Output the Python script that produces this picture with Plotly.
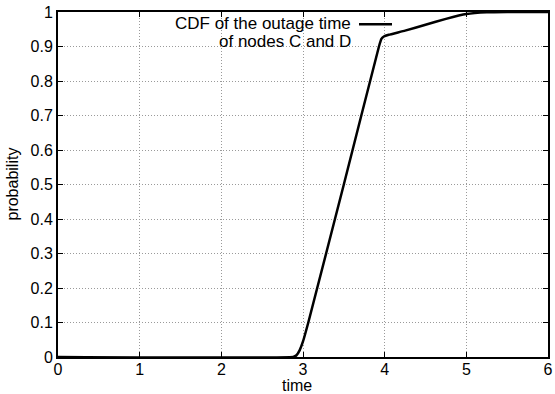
import plotly.graph_objects as go

time = [0, 2.88, 2.92, 2.96, 3.0, 3.065, 3.5, 3.93, 3.96, 3.99, 4.05, 4.25, 4.5, 4.75, 5.0, 5.25, 5.5, 6.0]
prob = [0, 0, 0.005, 0.02, 0.045, 0.1, 0.5, 0.9, 0.922, 0.929, 0.934, 0.946, 0.963, 0.98, 0.994, 0.999, 1.0, 1.0]
x_ticks = [0, 1, 2, 3, 4, 5, 6]
y_ticks = [0, 0.1, 0.2, 0.3, 0.4, 0.5, 0.6, 0.7, 0.8, 0.9, 1]
y_tick_text = ["0", "0.1", "0.2", "0.3", "0.4", "0.5", "0.6", "0.7", "0.8", "0.9", "1"]
legend_lines = ["CDF of the outage time", "of nodes C and D"]
x_title = "time"
y_title = "probability"

font = "Liberation Sans, Arial, sans-serif"

fig = go.Figure()
fig.add_trace(go.Scatter(x=time, y=prob, mode="lines",
                         line=dict(color="black", width=2.5, shape="spline", smoothing=0.3),
                         showlegend=False))

axis_common = dict(showline=True, linecolor="black", linewidth=2, mirror="ticks",
                   ticks="inside", ticklen=5, tickcolor="black", tickwidth=1,
                   showgrid=True, gridcolor="#9a9a9a", griddash="1px,2px", gridwidth=1,
                   zeroline=False, automargin=False,
                   tickfont=dict(family=font, size=16, color="black"))

fig.update_xaxes(range=[0, 6], tickvals=x_ticks, ticktext=[str(v) for v in x_ticks],
                 ticklabelstandoff=-3, **axis_common)
fig.update_yaxes(range=[0, 1], tickvals=y_ticks, ticktext=y_tick_text, **axis_common)

W, L, T, H = 490, 58, 12, 345.5
def px(x):
    return (x - L) / W
def py(y):
    return (T + H - y) / H

# axis titles
fig.add_annotation(xref="paper", yref="paper", x=px(297), y=py(386.5), text=x_title,
                   showarrow=False, xanchor="center", yanchor="middle",
                   font=dict(family=font, size=16, color="black"))
fig.add_annotation(xref="paper", yref="paper", x=px(12), y=0.5, text=y_title, textangle=-90,
                   showarrow=False, xanchor="center", yanchor="middle",
                   font=dict(family=font, size=16, color="black"))

# legend (gnuplot style: right-aligned text with sample line to the right)
fig.add_annotation(xref="paper", yref="paper", x=px(353), y=py(24),
                   text=legend_lines[0], showarrow=False, xanchor="right", yanchor="middle",
                   font=dict(family=font, size=17, color="black"))
fig.add_annotation(xref="paper", yref="paper", x=px(353), y=py(41.5),
                   text=legend_lines[1], showarrow=False, xanchor="right", yanchor="middle",
                   font=dict(family=font, size=17, color="black"))
fig.add_shape(type="line", xref="paper", yref="paper",
              x0=px(359), x1=px(392), y0=py(24.3), y1=py(24.3),
              line=dict(color="black", width=2.5))

fig.update_layout(width=555, height=394, margin=dict(l=58, r=7, t=12, b=36.5),
                  plot_bgcolor="white", paper_bgcolor="white",
                  font=dict(family=font, size=16, color="black"))

fig.write_html("out.html", config={"displayModeBar": False},
               post_script="document.body.style.margin='0';")
